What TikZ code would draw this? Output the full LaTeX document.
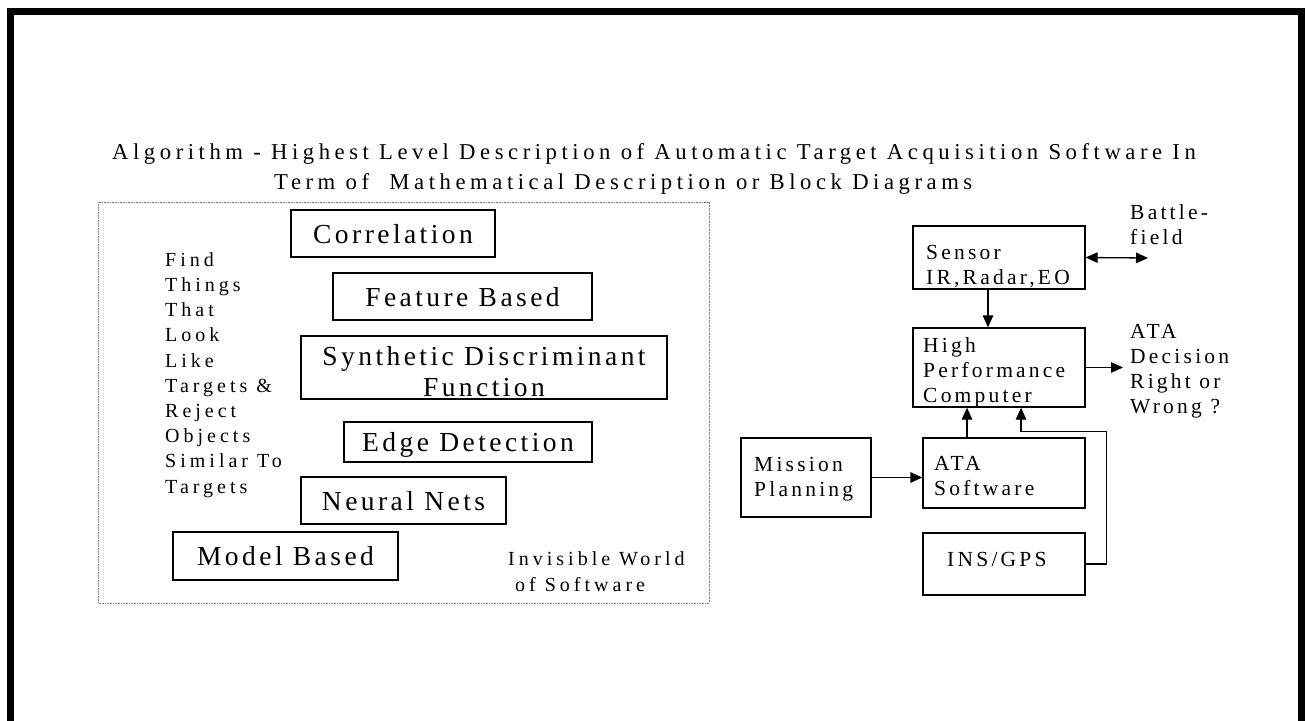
\documentclass[tikz,border=0pt]{standalone}
\usepackage{fontspec}
\setmainfont{Liberation Serif}
\newfontfamily\wideserif{Liberation Serif}[LetterSpace=20]
\newfontfamily\blockserif{Liberation Serif}[LetterSpace=15]
\newfontfamily\boxserif{Liberation Serif}[LetterSpace=12.5]
\usepackage{tikz}
\usetikzlibrary{arrows.meta}

\begin{document}
\begin{tikzpicture}[x=1pt, y=-1pt, >={Triangle[length=12pt, width=10.5pt]},
        algbox/.style={draw, line width=1.3pt, inner sep=0pt, text height=19pt, text depth=0pt,
            font=\boxserif\fontsize{27.5}{31}\selectfont},
        blockbox/.style={draw, line width=1.3pt, inner sep=0pt},
        blocktext/.style={anchor=base west, inner sep=0pt, align=left,
            font=\blockserif\fontsize{21.5}{24.7}\selectfont},
        conn/.style={line width=1.3pt, ->}]
            \useasboundingbox (0,0) rectangle (1305,720);
            \draw[line width=7pt] (10,760) -- (10,11) -- (1301,11) -- (1301,760);

            \node[anchor=base west, align=left, inner sep=0pt, font=\wideserif\fontsize{22.7}{30}\selectfont] (title) at (112,189)
                {Algorithm - Highest Level Description of Automatic Target Acquisition Software In\\\hspace*{162pt}Term of~~Mathematical Description or Block Diagrams};

            \draw[gray, line width=0.8pt, dash pattern=on 0.8pt off 0.8pt] (98,202) rectangle (709,603);

            \foreach \nm/\cx/\cy/\bw/\bh/\txt in {corr/393/233.5/204/47/Correlation, feat/462.5/296.5/259/47/Feature Based,
                    edge/468/442/248/40/Edge Detection, neural/403.5/500.5/205/47/Neural Nets, model/285.5/556/225/48/Model Based}
                \node[algbox, minimum width=\bw, minimum height=\bh] (\nm) at (\cx,\cy) {\txt};

            \node[algbox, minimum width=366, minimum height=63] (sdf) at (484,367.5) {};
            \node[align=center, inner sep=0pt, font=\boxserif\fontsize{27.5}{31}\selectfont] (sdftext) at (484,372) {Synthetic Discriminant\\Function};

            \node[blocktext, font=\wideserif\fontsize{20}{25.2}\selectfont] (findtext) at (165,493)
                {Find\\Things\\That\\Look\\Like\\Targets \&\\Reject\\Objects\\Similar To\\Targets};
            \node[blocktext, font=\wideserif\fontsize{20}{26}\selectfont] (invisible) at (508,591) {Invisible World\\\hspace*{7pt}of Software};

            \node[blockbox, minimum width=172, minimum height=63] (sensor) at (999,257.5) {};
            \node[blockbox, minimum width=172, minimum height=79] (hpc) at (999,367.5) {};
            \node[blockbox, minimum width=162, minimum height=70] (ata) at (1004,473) {};
            \node[blockbox, minimum width=162, minimum height=62] (ins) at (1004,564) {};
            \node[blockbox, minimum width=130, minimum height=79] (mission) at (806,477.5) {};

            \node[blocktext] (sensortext) at (926,284) {Sensor\\IR,Radar,EO};
            \node[blocktext] (hpctext) at (923,402) {High\\Performance\\Computer};
            \node[blocktext] (atatext) at (934,495) {ATA\\Software};
            \node[blocktext] (missiontext) at (754,496) {Mission\\Planning};
            \node[blocktext] (instext) at (947,566) {INS/GPS};
            \node[blocktext] (battle) at (1130,244) {Battle-\\field};
            \node[blocktext] (decision) at (1130,413) {ATA\\Decision\\Right or\\Wrong ?};

            \coordinate (fieldend) at (1148,258);
            \coordinate (decisionend) at (1123,367.5);

            \draw[conn, <->] (sensor.east) -- (fieldend);
            \draw[conn] ([xshift=-11]sensor.south) -- ([xshift=-11]hpc.north);
            \draw[conn] (hpc.east) -- (decisionend);
            \draw[conn] ([xshift=-37]ata.north) -- ([xshift=-37]ata.north |- hpc.south);
            \draw[conn] (ins.east) -- ++(21,0) |- ([shift={(22,24)}]hpc.south) -- ([xshift=22]hpc.south);
            \draw[conn] (mission.east) -- (mission.east -| ata.west);
         \end{tikzpicture}
\end{document}
